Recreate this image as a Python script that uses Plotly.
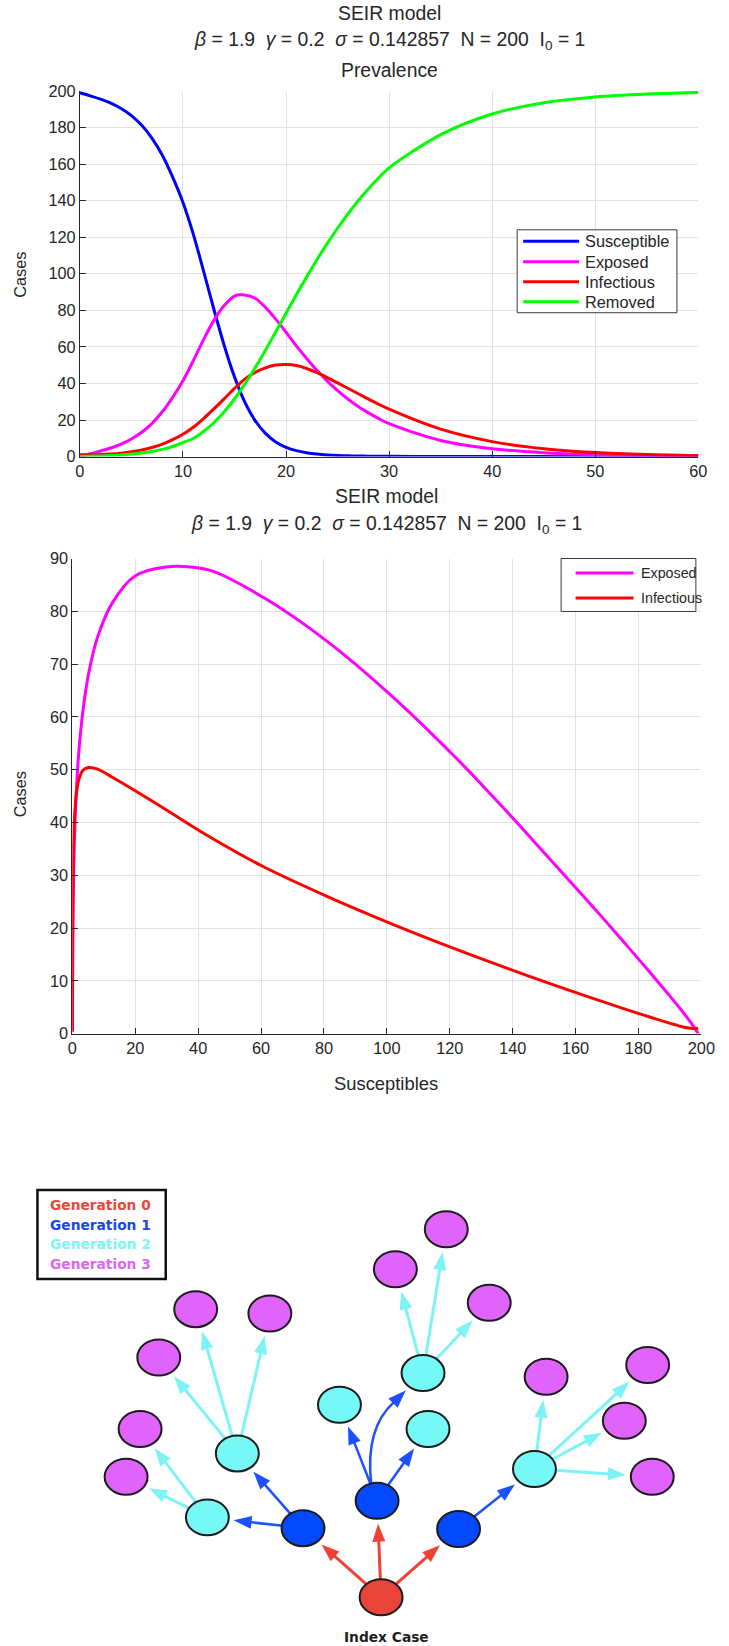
import math
import plotly.graph_objects as go

# Layout is specified in target page pixels (729 x 1646).  The canvas is slightly
# larger and every page pixel is mapped onto it with a linear transform.
PAGE_W, PAGE_H = 729, 1646
KX, CX = 0.976, 4.0
KY, CY = 0.990, 7.0
W, H = 743, 1655
FS = 1.02  # text scale matching the canvas transform

# ---------------- SEIR trajectories (beta=1.9, gamma=0.2, sigma=1/7, N=200, I0=1)
days = [0, 1, 2, 3, 4, 5, 6, 7, 8, 9, 10, 11, 12, 13, 14, 15, 16, 17, 18, 19, 20,
        21, 22, 23, 24, 25, 26, 27, 28, 29, 30, 35, 40, 45, 50, 55, 60]
susceptible = [199, 197.3, 195.5, 193.3, 190.4, 186.5, 181.2, 174.1, 164.8, 152.8, 139.0,
               121.7, 101.5, 80.6, 60.8, 43.6, 29.8, 19.7, 12.7, 8.05, 5.1,
               3.25, 2.09, 1.37, 0.92, 0.63, 0.44, 0.32, 0.24, 0.18, 0.14,
               0.06, 0.04, 0.03, 0.03, 0.03, 0.03]
exposed = [0, 1.56, 3.04, 4.71, 6.82, 9.59, 13.3, 18.2, 24.5, 32.4, 41.5,
           52.4, 64.0, 74.5, 82.6, 87.8, 88.4, 86.6, 81.6, 75.2, 68.0,
           60.6, 53.7, 47.2, 41.3, 36.1, 31.5, 27.4, 23.9, 20.8, 18.0,
           8.83, 4.32, 2.12, 1.04, 0.51, 0.25]
infectious = [1.0, 0.96, 1.10, 1.40, 1.89, 2.60, 3.60, 4.97, 6.81, 9.27, 12.2,
              16.05, 20.8, 26.1, 31.6, 37.3, 42.4, 46.1, 48.55, 50.1, 50.4,
              49.8, 48.2, 45.9, 43.2, 40.3, 37.4, 34.4, 31.4, 28.6, 25.9,
              15.0, 8.2, 4.33, 2.24, 1.14, 0.57]
removed = [0, 0.18, 0.37, 0.62, 0.94, 1.37, 1.98, 2.82, 3.97, 5.54, 7.7,
           9.9, 13.7, 18.5, 24.5, 31.5, 39.6, 48.6, 58.2, 68.3, 78.4,
           88.5, 98.3, 107.7, 116.6, 124.9, 132.7, 139.9, 146.5, 152.5, 157.9,
           176.1, 187.4, 193.5, 196.7, 198.3, 199.2]

series_names = ["Susceptible", "Exposed", "Infectious", "Removed"]
series_colors = ["#0000FF", "#FF00FF", "#FF0000", "#00FF00"]

time_ticks = [0, 10, 20, 30, 40, 50, 60]
case_ticks = [0, 20, 40, 60, 80, 100, 120, 140, 160, 180, 200]
sus_ticks = [0, 20, 40, 60, 80, 100, 120, 140, 160, 180, 200]
phase_ticks = [0, 10, 20, 30, 40, 50, 60, 70, 80, 90]

title_main = "SEIR model"
title_params = ("<i>β</i> = 1.9\u00a0\u00a0<i>γ</i> = 0.2\u00a0\u00a0<i>σ</i> = 0.142857"
                "\u00a0\u00a0N = 200\u00a0\u00a0I<sub>0</sub> = 1")

# ---------------- transmission tree
gen_labels = ["Generation 0", "Generation 1", "Generation 2", "Generation 3"]
gen_node_colors = ["#E8443A", "#0448FF", "#76F8F6", "#E063FB"]
gen_text_colors = ["#E8473A", "#1447F0", "#7CF6F6", "#DD66F2"]
gen_arrow_colors = ["#EE4237", "#1D50FF", "#7EF3F6"]

node_gen = [0, 1, 1, 1, 2, 2, 2, 2, 2, 2, 3, 3, 3, 3, 3, 3, 3, 3, 3, 3, 3, 3]
node_x = [380.7, 302.5, 376.7, 458.3, 206.7, 236.7, 339.0, 422.7, 427.7, 534.3,
          125.3, 139.3, 158.0, 195.0, 269.3, 395.0, 446.0, 489.0, 546.0, 647.7, 624.3, 652.3]
node_y = [1596.7, 1527.5, 1500.0, 1528.3, 1516.7, 1452.7, 1404.0, 1372.3, 1428.3, 1468.3,
          1476.0, 1428.3, 1356.7, 1308.3, 1312.7, 1268.3, 1228.3, 1302.0, 1376.0, 1364.3,
          1420.0, 1476.0]
edges = [(0, 1), (0, 2), (0, 3),
         (1, 4), (1, 5), (2, 6), (2, 7), (2, 8), (3, 9),
         (4, 10), (4, 11), (5, 12), (5, 13), (5, 14),
         (7, 15), (7, 16), (7, 17),
         (9, 18), (9, 19), (9, 20), (9, 21)]
curved_edges = {(2, 7)}

NODE_RX, NODE_RY = 21.5, 18.0
FONT = "Liberation Sans, Arial, sans-serif"
INK = "#262626"


def fx(p):
    """page pixel x -> paper fraction"""
    return ((p - CX) / KX) / W


def fy(p):
    """page pixel y -> paper fraction"""
    return 1 - ((p - CY) / KY) / H


fig = go.Figure()

# ---------------- panel 1: prevalence over time
for name, col, vals in zip(series_names, series_colors,
                           [susceptible, exposed, infectious, removed]):
    fig.add_trace(go.Scatter(x=days, y=vals, mode="lines", name=name,
                             line=dict(color=col, width=3, shape="spline", smoothing=0.9),
                             xaxis="x", yaxis="y", showlegend=False, hoverinfo="skip"))

# ---------------- panel 2: phase plane against susceptibles
for name, col, vals in zip(series_names[1:3], series_colors[1:3], [exposed, infectious]):
    fig.add_trace(go.Scatter(x=susceptible, y=vals, mode="lines", name=name,
                             line=dict(color=col, width=3, shape="spline", smoothing=0.9),
                             xaxis="x2", yaxis="y2", showlegend=False, hoverinfo="skip"))

# anchor trace for the tree canvas
fig.add_trace(go.Scatter(x=node_x, y=node_y, mode="markers", marker=dict(size=1, opacity=0),
                         xaxis="x3", yaxis="y3", showlegend=False, hoverinfo="skip"))


def axis_style(rng, ticks, dom, anchor):
    return dict(range=rng, tickvals=ticks, domain=dom, anchor=anchor,
                showgrid=True, gridcolor="#E2E2E2", gridwidth=1,
                showline=True, linecolor=INK, linewidth=1,
                ticks="inside", ticklen=6, tickcolor=INK, tickwidth=1,
                tickfont=dict(family=FONT, size=16 * FS, color=INK),
                zeroline=False, fixedrange=True)


p1 = dict(l=79, r=698.5, t=89, b=455)
p2 = dict(l=71.5, r=701.5, t=557, b=1032.5)

TREE_TOP = 1130.0
tree_dom_top = fy(TREE_TOP)

fig.update_layout(
    width=W, height=H, autosize=False,
    margin=dict(l=0, r=0, t=0, b=0, pad=0),
    paper_bgcolor="white", plot_bgcolor="rgba(0,0,0,0)",
    xaxis=axis_style([0, 60], time_ticks, [fx(p1["l"]), fx(p1["r"])], "y"),
    yaxis=axis_style([0, 200], case_ticks, [fy(p1["b"]), fy(p1["t"])], "x"),
    xaxis2=axis_style([0, 200], sus_ticks, [fx(p2["l"]), fx(p2["r"])], "y2"),
    yaxis2=axis_style([0, 90], phase_ticks, [fy(p2["b"]), fy(p2["t"])], "x2"),
    xaxis3=dict(range=[CX, KX * W + CX], domain=[0, 1], anchor="y3", visible=False,
                fixedrange=True),
    yaxis3=dict(range=[KY * H + CY, TREE_TOP], domain=[0, tree_dom_top], anchor="x3",
                visible=False, fixedrange=True),
)

annotations = []
shapes = []


def text_px(x, y, s, size, xanchor="center", color=INK, angle=0, family=FONT):
    annotations.append(dict(x=fx(x), y=fy(y), xref="paper", yref="paper", text=s,
                            showarrow=False, xanchor=xanchor, yanchor="middle",
                            textangle=angle,
                            font=dict(family=family, size=size * FS, color=color)))


# titles and axis labels
text_px(389, 11, title_main, 19)
text_px(389, 39, title_params, 19)
text_px(389, 68.5, "Prevalence", 19)
text_px(19, 273, "Cases", 16, angle=-90)

text_px(386, 494, title_main, 19)
text_px(386, 523, title_params, 19)
text_px(19, 793, "Cases", 16, angle=-90)
text_px(386, 1082, "Susceptibles", 18)


def legend_box(x0, y0, x1, y1, rows, line_x0, line_x1, text_x, names, colors, size):
    shapes.append(dict(type="rect", xref="paper", yref="paper",
                       x0=fx(x0), x1=fx(x1), y0=fy(y0), y1=fy(y1),
                       line=dict(color="#3A3A3A", width=1), fillcolor="white", layer="above"))
    for yy, nm, cl in zip(rows, names, colors):
        shapes.append(dict(type="line", xref="paper", yref="paper",
                           x0=fx(line_x0), x1=fx(line_x1), y0=fy(yy), y1=fy(yy),
                           line=dict(color=cl, width=3), layer="above"))
        text_px(text_x, yy, nm, size, xanchor="left", color=INK)


legend_box(517, 228, 677, 311, [239.5, 260, 280, 300], 523, 579, 583,
           series_names, series_colors, 16)
legend_box(561, 557, 696, 610, [571.5, 596.5], 575.5, 633.5, 639,
           series_names[1:3], series_colors[1:3], 14)

# ---------------- transmission tree drawing (tree canvas units are page pixels)
HEAD_LEN, HEAD_HALF, GAP = 18.0, 6.5, 5.0


def rim(ux, uy):
    return 1.0 / math.sqrt((ux / NODE_RX) ** 2 + (uy / NODE_RY) ** 2)


def head(tipx, tipy, ux, uy, color):
    bx, by = tipx - ux * HEAD_LEN, tipy - uy * HEAD_LEN
    px, py = -uy, ux
    path = (f"M {tipx:.2f},{tipy:.2f} L {bx + px * HEAD_HALF:.2f},{by + py * HEAD_HALF:.2f} "
            f"L {bx - px * HEAD_HALF:.2f},{by - py * HEAD_HALF:.2f} Z")
    shapes.append(dict(type="path", xref="x3", yref="y3", path=path,
                       fillcolor=color, line=dict(width=0), layer="above"))
    return bx, by


for a, b in edges:
    col = gen_arrow_colors[node_gen[a]]
    width = 2.5 if node_gen[a] == 1 else 3
    ax_, ay_ = node_x[a], node_y[a]
    bx_, by_ = node_x[b], node_y[b]
    if (a, b) in curved_edges:
        sx, sy = ax_ - 6, ay_ - NODE_RY + 1
        cx, cy = ax_ - 12, by_ + 55
        ux, uy = 1 / math.sqrt(2), -1 / math.sqrt(2)
        tipx, tipy = bx_ - ux * (rim(ux, uy) + GAP), by_ - uy * (rim(ux, uy) + GAP)
        basex, basey = head(tipx, tipy, ux, uy, col)
        shapes.append(dict(type="path", xref="x3", yref="y3",
                           path=f"M {sx:.2f},{sy:.2f} Q {cx:.2f},{cy:.2f} {basex + ux:.2f},{basey + uy:.2f}",
                           line=dict(color=col, width=width), layer="above"))
        continue
    dx, dy = bx_ - ax_, by_ - ay_
    L = math.hypot(dx, dy)
    ux, uy = dx / L, dy / L
    sx, sy = ax_ + ux * (rim(ux, uy) - 1), ay_ + uy * (rim(ux, uy) - 1)
    tipx, tipy = bx_ - ux * (rim(ux, uy) + GAP), by_ - uy * (rim(ux, uy) + GAP)
    basex, basey = head(tipx, tipy, ux, uy, col)
    shapes.append(dict(type="line", xref="x3", yref="y3",
                       x0=sx, y0=sy, x1=basex + ux * 2, y1=basey + uy * 2,
                       line=dict(color=col, width=width), layer="above"))

for gx, gy, g in zip(node_x, node_y, node_gen):
    shapes.append(dict(type="circle", xref="x3", yref="y3",
                       x0=gx - NODE_RX, x1=gx + NODE_RX, y0=gy - NODE_RY, y1=gy + NODE_RY,
                       fillcolor=gen_node_colors[g], line=dict(color="#1C1C1C", width=2),
                       layer="above"))

# generation key
shapes.append(dict(type="rect", xref="x3", yref="y3", x0=36.5, x1=165, y0=1189, y1=1278,
                   line=dict(color="#111111", width=2.5), fillcolor="white", layer="above"))
TREE_FONT = "DejaVu Sans, Verdana, sans-serif"
for i, (lab, cl) in enumerate(zip(gen_labels, gen_text_colors)):
    annotations.append(dict(x=47, y=1204 + i * 19.7, xref="x3", yref="y3",
                            text=f"<b>{lab}</b>", showarrow=False, xanchor="left",
                            yanchor="middle",
                            font=dict(family=TREE_FONT, size=13.5 * FS, color=cl)))

annotations.append(dict(x=386, y=1636, xref="x3", yref="y3", text="<b>Index Case</b>",
                        showarrow=False, xanchor="center", yanchor="middle",
                        font=dict(family=TREE_FONT, size=13.5 * FS, color="#1E1E1E")))

fig.update_layout(annotations=annotations, shapes=shapes)
fig.write_html("out.html")
